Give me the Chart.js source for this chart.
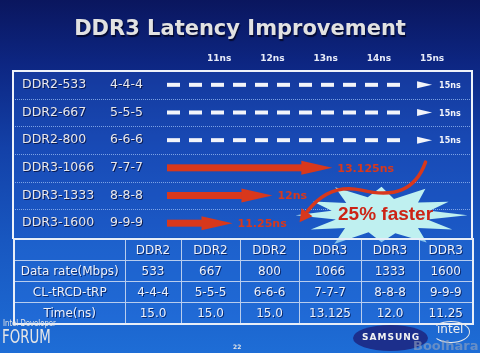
<!DOCTYPE html>
<html>
<head>
<meta charset="utf-8">
<script src="https://cdn.jsdelivr.net/npm/chart.js@4.4.1/dist/chart.umd.min.js"></script>
<style>
html, body { margin: 0; padding: 0; }
body {
    width: 480px; height: 353px; overflow: hidden; position: relative;
    background: linear-gradient(180deg, #0a165e 0%, #0d2682 18%, #1341a8 42%, #1857c0 68%, #1e6dd6 100%);
    font-family: "DejaVu Sans", Verdana, sans-serif;
}
#chart { position: absolute; left: 0; top: 0; }
h1 {
    position: absolute; top: 16px; left: 0; width: 480px; margin: 0;
    text-align: center; font: bold 21px "DejaVu Sans", sans-serif;
    color: #e2e2e2; text-shadow: 1px 2px 1px #050a30;
}
table {
    position: absolute; left: 13px; top: 238px; width: 459px; height: 82px;
    border-collapse: collapse; table-layout: fixed;
    border: 2px solid #e8eef8; background: rgba(40, 115, 225, 0.35);
}
td {
    border: 1px solid #b8cdee; color: #eef2fa; text-align: center;
    font: 12px "DejaVu Sans", sans-serif; padding: 0; height: 20px;
    text-shadow: 1px 1px 0 #0a2a70;
}
.small { position: absolute; color: #e6e6e6; }
</style>
</head>
<body>
<canvas id="chart" width="480" height="353"></canvas>
<h1>DDR3 Latency Improvement</h1>
<table id="specs"></table>
<div class="small" style="left:3px;top:318px;font:9px 'DejaVu Sans Condensed';transform:scaleX(0.85);transform-origin:left;">Intel Developer</div>
<div class="small" style="left:2px;top:325px;font:19px 'DejaVu Sans Condensed';transform:scaleX(0.78);transform-origin:left;">FORUM</div>
<div class="small" style="left:233px;top:343px;font:bold 6px 'DejaVu Sans';">22</div>
<div style="position:absolute;left:353px;top:325px;width:75px;height:26px;border-radius:50%;background:#1c2f8c;"></div>
<div class="small" style="left:362px;top:332px;font:bold 9px 'DejaVu Sans';letter-spacing:1px;color:#f2f2f2;">SAMSUNG</div>
<div style="position:absolute;left:432px;top:321px;width:36px;height:20px;border-radius:50%;border:1.5px solid #e8e8e8;border-left-color:transparent;"></div>
<div class="small" style="left:437px;top:322px;font:12px 'DejaVu Sans';color:#f0f0f0;">intel</div>
<div class="small" style="left:413px;top:338px;font:bold 13px 'DejaVu Sans';color:rgba(150,165,190,0.6);">Boolhara</div>

<script>
// chart rows
var rowNames = ['DDR2-533', 'DDR2-667', 'DDR2-800', 'DDR3-1066', 'DDR3-1333', 'DDR3-1600'];
var rowTimings = ['4-4-4', '5-5-5', '6-6-6', '7-7-7', '8-8-8', '9-9-9'];
var latencyNs = [15, 15, 15, 13.125, 12, 11.25];
var latencyLabels = ['15ns', '15ns', '15ns', '13.125ns', '12ns', '11.25ns'];
var tickValues = [11, 12, 13, 14, 15];

// table below the chart
var tableHeader = ['', 'DDR2', 'DDR2', 'DDR2', 'DDR3', 'DDR3', 'DDR3'];
var dataRates = ['Data rate(Mbps)', '533', '667', '800', '1066', '1333', '1600'];
var timingRow = ['CL-tRCD-tRP', '4-4-4', '5-5-5', '6-6-6', '7-7-7', '8-8-8', '9-9-9'];
var timeRow = ['Time(ns)', '15.0', '15.0', '15.0', '13.125', '12.0', '11.25'];
var colWidths = [111, 56, 59, 59, 62, 58, 54];

var table = document.getElementById('specs');
var colgroup = document.createElement('colgroup');
colWidths.forEach(function(w) {
    var c = document.createElement('col');
    c.style.width = w + 'px';
    colgroup.appendChild(c);
});
table.appendChild(colgroup);
[tableHeader, dataRates, timingRow, timeRow].forEach(function(row) {
    var tr = document.createElement('tr');
    row.forEach(function(cell) {
        var td = document.createElement('td');
        td.textContent = cell;
        tr.appendChild(td);
    });
    table.appendChild(tr);
});

var RED = '#d8381c';

// row bands, box and labels
var slidePlugin = {
    id: 'slideMarks',
    beforeDatasetsDraw: function(chart) {
        var ctx = chart.ctx, area = chart.chartArea, y = chart.scales.y;
        var band = (area.bottom - area.top) / rowNames.length;
        var left = 13;
        ctx.save();
        ctx.fillStyle = 'rgba(40, 100, 220, 0.28)';
        ctx.fillRect(left, area.top, area.right - left, area.bottom - area.top);
        ctx.strokeStyle = 'rgba(150, 185, 240, 0.8)';
        ctx.lineWidth = 1;
        ctx.setLineDash([1, 1]);
        for (var i = 1; i < rowNames.length; i++) {
            var yy = Math.round(y.getPixelForValue(i) - band / 2) + 0.5;
            ctx.beginPath();
            ctx.moveTo(left, yy);
            ctx.lineTo(area.right, yy);
            ctx.stroke();
        }
        ctx.setLineDash([]);
        ctx.strokeStyle = '#eef2fa';
        ctx.lineWidth = 2;
        ctx.beginPath();
        ctx.moveTo(left, area.bottom + 2);
        ctx.lineTo(left, area.top);
        ctx.lineTo(area.right, area.top);
        ctx.lineTo(area.right, area.bottom + 2);
        ctx.stroke();

        // row labels
        ctx.font = '12.5px "DejaVu Sans"';
        ctx.textBaseline = 'middle';
        rowNames.forEach(function(name, i) {
            var yc = y.getPixelForValue(i);
            ctx.fillStyle = '#0a1a50';
            ctx.fillText(name, 23, yc + 1);
            ctx.fillText(rowTimings[i], 111, yc + 1);
            ctx.fillStyle = '#e8e8ec';
            ctx.fillText(name, 22, yc);
            ctx.fillText(rowTimings[i], 110, yc);
        });
        ctx.restore();
    },
    afterDatasetsDraw: function(chart) {
        var ctx = chart.ctx, area = chart.chartArea;
        var xs = chart.scales.x, ys = chart.scales.y;
        var meta = chart.getDatasetMeta(0);
        ctx.save();
        meta.data.forEach(function(el, i) {
            var x0 = area.left + 1, x1 = el.x, yc = el.y;
            ctx.textBaseline = 'middle';
            if (rowNames[i].indexOf('DDR2') === 0) {
                // dashed white line with thin arrowhead
                ctx.fillStyle = '#f2f4fa';
                for (var dx = x0; dx + 13 < x1 - 16; dx += 22) {
                    ctx.fillRect(dx, yc - 2, 13, 4);
                }
                ctx.beginPath();
                ctx.moveTo(x1 - 15, yc - 3.5);
                ctx.lineTo(x1, yc);
                ctx.lineTo(x1 - 15, yc + 3.5);
                ctx.closePath();
                ctx.fill();
                ctx.font = 'bold 8px "DejaVu Sans"';
                ctx.fillText(latencyLabels[i], x1 + 7, yc + 1);
            } else {
                // red arrow
                ctx.fillStyle = RED;
                ctx.fillRect(x0, yc - 3.5, x1 - 30 - x0, 7);
                ctx.beginPath();
                ctx.moveTo(x1 - 31, yc - 7);
                ctx.lineTo(x1, yc);
                ctx.lineTo(x1 - 31, yc + 7);
                ctx.closePath();
                ctx.fill();
                ctx.font = 'bold 11px "DejaVu Sans"';
                ctx.fillText(latencyLabels[i], x1 + 5, yc + 1);
            }
        });

        // "25% faster" burst
        var cx = xs.getPixelForValue(14.05);
        var cy = (ys.getPixelForValue(4) + ys.getPixelForValue(5)) / 2 + 6;
        var radii = [1, 0.55, 0.95, 0.6, 1.05, 0.62, 0.9, 0.58, 1.1, 0.6, 0.95, 0.55,
                     1, 0.6, 0.92, 0.58, 1.08, 0.62, 0.95, 0.56, 1.02, 0.6, 0.9, 0.58];
        ctx.fillStyle = '#bff0f0';
        ctx.beginPath();
        radii.forEach(function(r, k) {
            var a = k / radii.length * Math.PI * 2;
            var px = cx + Math.cos(a) * 86 * r;
            var py = cy + Math.sin(a) * 30 * r;
            if (k === 0) ctx.moveTo(px, py); else ctx.lineTo(px, py);
        });
        ctx.closePath();
        ctx.fill();
        ctx.fillStyle = '#cc2416';
        ctx.font = 'bold 19px "Liberation Sans"';
        ctx.textAlign = 'center';
        ctx.fillText('25% faster', cx + 4, cy - 1);

        // curved arrow down to the fastest part
        var tipX = xs.getPixelForValue(latencyNs[5]) + 67;
        var tipY = ys.getPixelForValue(5) - 3;
        ctx.strokeStyle = RED;
        ctx.lineWidth = 3.5;
        ctx.lineCap = 'round';
        ctx.beginPath();
        ctx.moveTo(tipX + 126, tipY - 58);
        ctx.bezierCurveTo(tipX + 116, tipY - 30, tipX + 95, tipY - 22, tipX + 62, tipY - 30);
        ctx.bezierCurveTo(tipX + 35, tipY - 36, tipX + 18, tipY - 22, tipX + 8, tipY - 9);
        ctx.stroke();
        ctx.fillStyle = RED;
        ctx.beginPath();
        ctx.moveTo(tipX, tipY + 2);
        ctx.lineTo(tipX + 2, tipY - 12);
        ctx.lineTo(tipX + 13, tipY - 4);
        ctx.closePath();
        ctx.fill();
        ctx.restore();
    }
};

new Chart(document.getElementById('chart'), {
    type: 'bar',
    data: {
        labels: rowNames,
        datasets: [{
            data: latencyNs,
            backgroundColor: 'rgba(0,0,0,0)',
            borderWidth: 0
        }]
    },
    options: {
        indexAxis: 'y',
        responsive: false,
        animation: false,
        layout: { padding: { top: 0, right: 8, bottom: 116, left: 0 } },
        plugins: { legend: { display: false }, tooltip: { enabled: false } },
        scales: {
            x: {
                position: 'top',
                min: 10,
                max: 15.75,
                afterBuildTicks: function(scale) {
                    scale.ticks = tickValues.map(function(v) { return { value: v }; });
                },
                afterFit: function(scale) { scale.height = 71; },
                grid: { display: false, drawTicks: false },
                border: { display: false },
                ticks: {
                    padding: 7,
                    color: '#e8ecf8',
                    font: { family: 'DejaVu Sans', weight: 'bold', size: 9 },
                    callback: function(v) { return v + 'ns'; }
                }
            },
            y: {
                afterFit: function(scale) { scale.width = 166; },
                grid: { display: false },
                border: { display: false },
                ticks: { display: false }
            }
        }
    },
    plugins: [slidePlugin]
});
</script>
</body>
</html>
